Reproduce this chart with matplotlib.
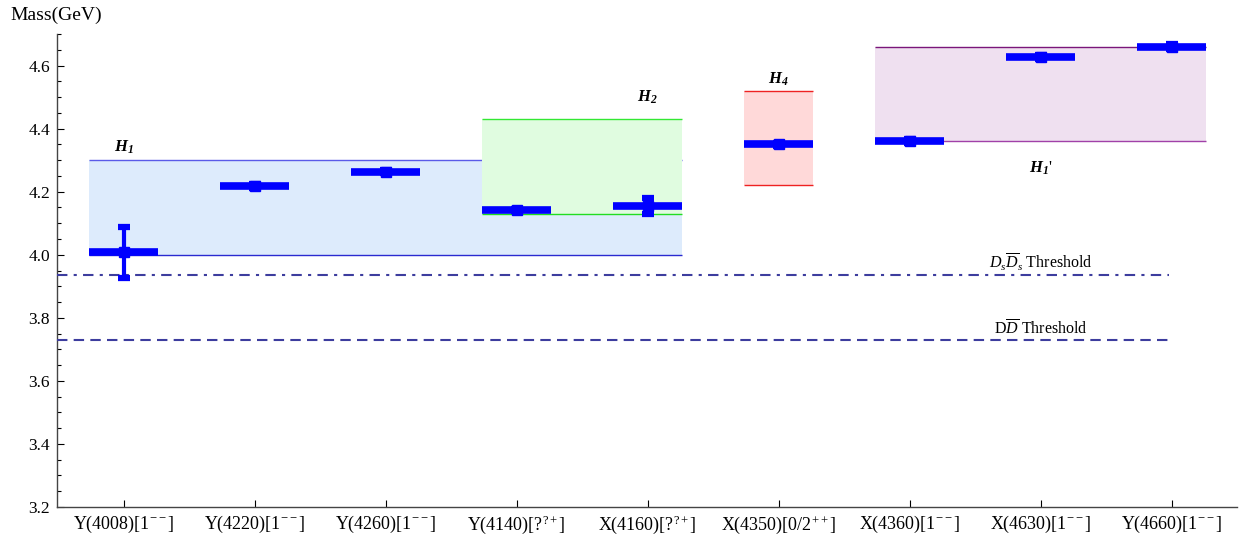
import matplotlib
matplotlib.use('Agg')
import matplotlib.pyplot as plt
from matplotlib.ticker import MultipleLocator

plt.rcParams['font.family'] = ['Liberation Serif', 'DejaVu Serif']
plt.rcParams['mathtext.fontset'] = 'custom'
plt.rcParams['mathtext.rm'] = 'Liberation Serif'
plt.rcParams['mathtext.it'] = 'Liberation Serif:italic'
plt.rcParams['mathtext.bf'] = 'Liberation Serif:bold:italic'

# states and masses (GeV)
labels = [r'Y(4008)[1$^{--}$]', r'Y(4220)[1$^{--}$]', r'Y(4260)[1$^{--}$]',
          r'Y(4140)[?$^{?+}$]', r'X(4160)[?$^{?+}$]', r'X(4350)[0/2$^{++}$]',
          r'X(4360)[1$^{--}$]', r'X(4630)[1$^{--}$]', r'Y(4660)[1$^{--}$]']
mass = [4.008, 4.218, 4.263, 4.143, 4.155, 4.350, 4.360, 4.628, 4.660]
err_up = [0.080, 0.005, 0.005, 0.003, 0.024, 0.005, 0.006, 0.006, 0.008]
err_dn = [0.082, 0.005, 0.005, 0.003, 0.026, 0.005, 0.006, 0.006, 0.008]

# hybrid bands: name, first state, last state, low, high
bands = [
    (r'$\mathbf{H_1}$', 1, 5, 4.00, 4.30),
    (r'$\mathbf{H_2}$', 4, 5, 4.13, 4.43),
    (r'$\mathbf{H_4}$', 6, 6, 4.22, 4.52),
    (r"$\mathbf{H_1}$'", 7, 9, 4.36, 4.66),
]
band_fill = ['#ddebfc', '#e0fce0', '#ffd9d9', '#efe0f0']
band_edge = [('#5a5ae8', '#2a2ad0'), ('#33e833', '#22dd22'),
             ('#ee2222', '#ee2222'), ('#7a167a', '#a040a8')]
band_label_pos = [(1, 4.34), (5, 4.50), (6, 4.555), (8, 4.275)]

thresholds = [3.937, 3.730]
threshold_labels = [r'$D_s\overline{D}_s$ Threshold', r'D$\overline{D}$ Threshold']

x = list(range(1, len(mass) + 1))
hw = 0.263

fig = plt.figure(figsize=(12.39, 5.35), dpi=100)
ax = fig.add_axes([57 / 1239, 1 - 507 / 535, (1237 - 57) / 1239, (507 - 34) / 535])

for i, ((name, a, b, lo, hi), fc, (ec_top, ec_bot), (lx, ly)) in enumerate(
        zip(bands, band_fill, band_edge, band_label_pos)):
    ax.fill_between([a - hw, b + hw], lo, hi, color=fc, lw=0, zorder=1 + 2 * i)
    ax.hlines(hi, a - hw, b + hw, color=ec_top, lw=1.0, capstyle='butt', zorder=2 + 2 * i)
    ax.hlines(lo, a - hw, b + hw, color=ec_bot, lw=1.0, capstyle='butt', zorder=2 + 2 * i)
    ax.text(lx, ly, name, ha='center', va='center', fontsize=12, zorder=20)

ax.hlines(thresholds[0], 0.49, 8.98, color='#3d3d9e', lw=1.5,
          linestyles=(0, (5, 3, 1.5, 3)), zorder=12)
ax.hlines(thresholds[1], 0.49, 8.98, color='#3d3d9e', lw=1.5,
          linestyles=(0, (5, 3)), zorder=12)
ax.text(8, thresholds[0] + 0.004, threshold_labels[0], ha='center', va='bottom', fontsize=11.5)
ax.text(8, thresholds[1] + 0.004, threshold_labels[1], ha='center', va='bottom', fontsize=11.5)

ax.hlines(mass, [xi - hw for xi in x], [xi + hw for xi in x], color='#0000ff', lw=5.5,
          capstyle='butt', zorder=16)
ax.errorbar(x, mass, yerr=[err_dn, err_up], fmt='s', color='#0000ff', ms=7,
            elinewidth=3, capsize=4, capthick=4.5, zorder=17)

ax.set_xlim(0.49, 9.5)
ax.set_ylim(3.2, 4.70)
ax.set_xticks(x)
ax.set_xticklabels(labels, fontsize=13)
ax.yaxis.set_major_locator(MultipleLocator(0.2))
ax.yaxis.set_minor_locator(MultipleLocator(0.05))
ax.tick_params(axis='y', which='major', direction='in', length=5, width=0.8, labelsize=12.5, pad=5)
ax.tick_params(axis='y', which='minor', direction='in', length=3, width=0.8)
ax.tick_params(axis='x', direction='in', length=5, width=0.8, pad=5)
ax.spines['top'].set_visible(False)
ax.spines['right'].set_visible(False)
for s in ['left', 'bottom']:
    ax.spines[s].set_color('#444444')
    ax.spines[s].set_linewidth(1.0)

fig.text(10 / 1239, 1 - 15 / 535, 'Mass(GeV)', ha='left', va='center', fontsize=14)

fig.savefig('out.png', dpi=100)
